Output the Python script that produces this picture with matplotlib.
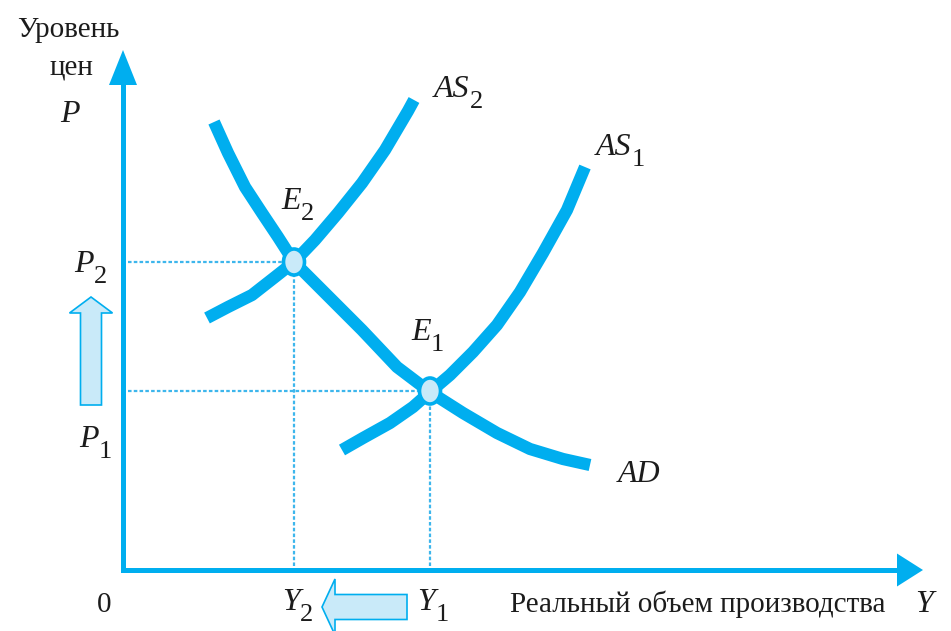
import matplotlib
matplotlib.use("Agg")
import matplotlib.pyplot as plt
from matplotlib.patches import Ellipse, FancyArrow, Polygon

plt.rcParams['font.family'] = ['Liberation Serif', 'DejaVu Serif']

# ---- data (units: output Y to the right, price level P upward; origin at 0) ----
ad_x = [91, 105, 122, 139, 155, 171, 189, 212, 239, 274, 307, 340, 374, 407, 440, 467]
ad_y = [448, 417, 383, 357, 333, 308, 290, 267, 240, 203, 178, 157, 137, 121, 111, 105]

as2_x = [84, 105, 129, 152, 171, 192, 215, 239, 262, 285, 291]
as2_y = [252, 263, 275, 293, 308, 330, 357, 387, 420, 459, 470]

as1_x = [219, 240, 267, 290, 307, 327, 350, 374, 397, 420, 444, 462]
as1_y = [120, 132, 147, 163, 178, 195, 218, 245, 278, 317, 360, 403]

eq_x = [307, 171]   # Y1, Y2
eq_y = [179, 308]   # P1, P2

BLUE = '#00aeef'
LIGHT = '#c9eaf9'
DOT = '#3db6ec'
TXT = '#1c1c1c'

fig = plt.figure(figsize=(9.51, 6.31), dpi=100)
ax = fig.add_axes([0, 0, 1, 1])
ax.set_xlim(-123, 828)
ax.set_ylim(-61, 570)
ax.axis('off')

# axes with arrowheads
ax.plot([0, 0], [0, 488], color=BLUE, lw=3.6, solid_capstyle='projecting', zorder=2)
ax.plot([0, 777], [0, 0], color=BLUE, lw=3.6, solid_capstyle='projecting', zorder=2)
ax.add_patch(Polygon([[-14, 485], [14, 485], [0, 520]], closed=True, color=BLUE, lw=0, zorder=2))
ax.add_patch(Polygon([[774, 16.5], [774, -16.5], [800, 0]], closed=True, color=BLUE, lw=0, zorder=2))

# dotted guide lines
for ex, ey in zip(eq_x, eq_y):
    l1, = ax.plot([5, ex], [ey, ey], color=DOT, lw=1.6, zorder=1)
    l2, = ax.plot([ex, ex], [4, ey], color=DOT, lw=1.6, zorder=1)
    l1.set_dashes((1.6, 1.0))
    l2.set_dashes((1.6, 1.0))

# curves
for cx, cy in [(ad_x, ad_y), (as2_x, as2_y), (as1_x, as1_y)]:
    ax.plot(cx, cy, color=BLUE, lw=8.8, solid_capstyle='butt', solid_joinstyle='round', zorder=3)

# equilibrium points
for ex, ey in zip(eq_x, eq_y):
    ax.add_patch(Ellipse((ex, ey), 21, 26, facecolor=LIGHT, edgecolor=BLUE, lw=2.6, zorder=4))

# shift arrows
ax.add_patch(FancyArrow(-32, eq_y[0] - 14, 0, eq_y[1] - eq_y[0] - 21, width=21, head_width=43,
                        head_length=16, length_includes_head=True,
                        facecolor=LIGHT, edgecolor=BLUE, lw=1.2, zorder=2))
ax.add_patch(FancyArrow(eq_x[0] - 23, -37, -(eq_x[0] - eq_x[1] - 51), 0, width=25, head_width=56,
                        head_length=13, length_includes_head=True,
                        facecolor=LIGHT, edgecolor=BLUE, lw=1.2, zorder=2))

def label(x, y, main, sub=None, size=23, subsize=19, subdx=0.4):
    t = ax.text(x, y, main, style='italic', ha='left', va='baseline',
                fontsize=size, color=TXT, zorder=5)
    if sub:
        ax.annotate(sub, xy=(1, 0), xycoords=t, xytext=(subdx, -3), textcoords='offset points',
                    ha='left', va='baseline', fontsize=subsize, color=TXT, zorder=5)
    return t

# axis titles
ax.text(-106, 533, 'Уровень', ha='left', va='baseline', fontsize=21, color=TXT)
ax.text(-73, 495, 'цен', ha='left', va='baseline', fontsize=21, color=TXT)
label(-63, 448, 'P')
ax.text(387, -42, 'Реальный объем производства', ha='left', va='baseline', fontsize=21, color=TXT)
label(792, -42, 'Y')
ax.text(-26, -42, '0', ha='left', va='baseline', fontsize=21, color=TXT)

label(-49, 298, 'P', '2')
label(-44, 123, 'P', '1')
label(159, -40, 'Y', '2')
label(294, -40, 'Y', '1')

label(311, 473, 'AS', '2')
label(473, 415, 'AS', '1')
label(495, 88, 'AD')
label(158, 361, 'E', '2')
label(288, 230, 'E', '1')

fig.savefig('out.png', dpi=100)
